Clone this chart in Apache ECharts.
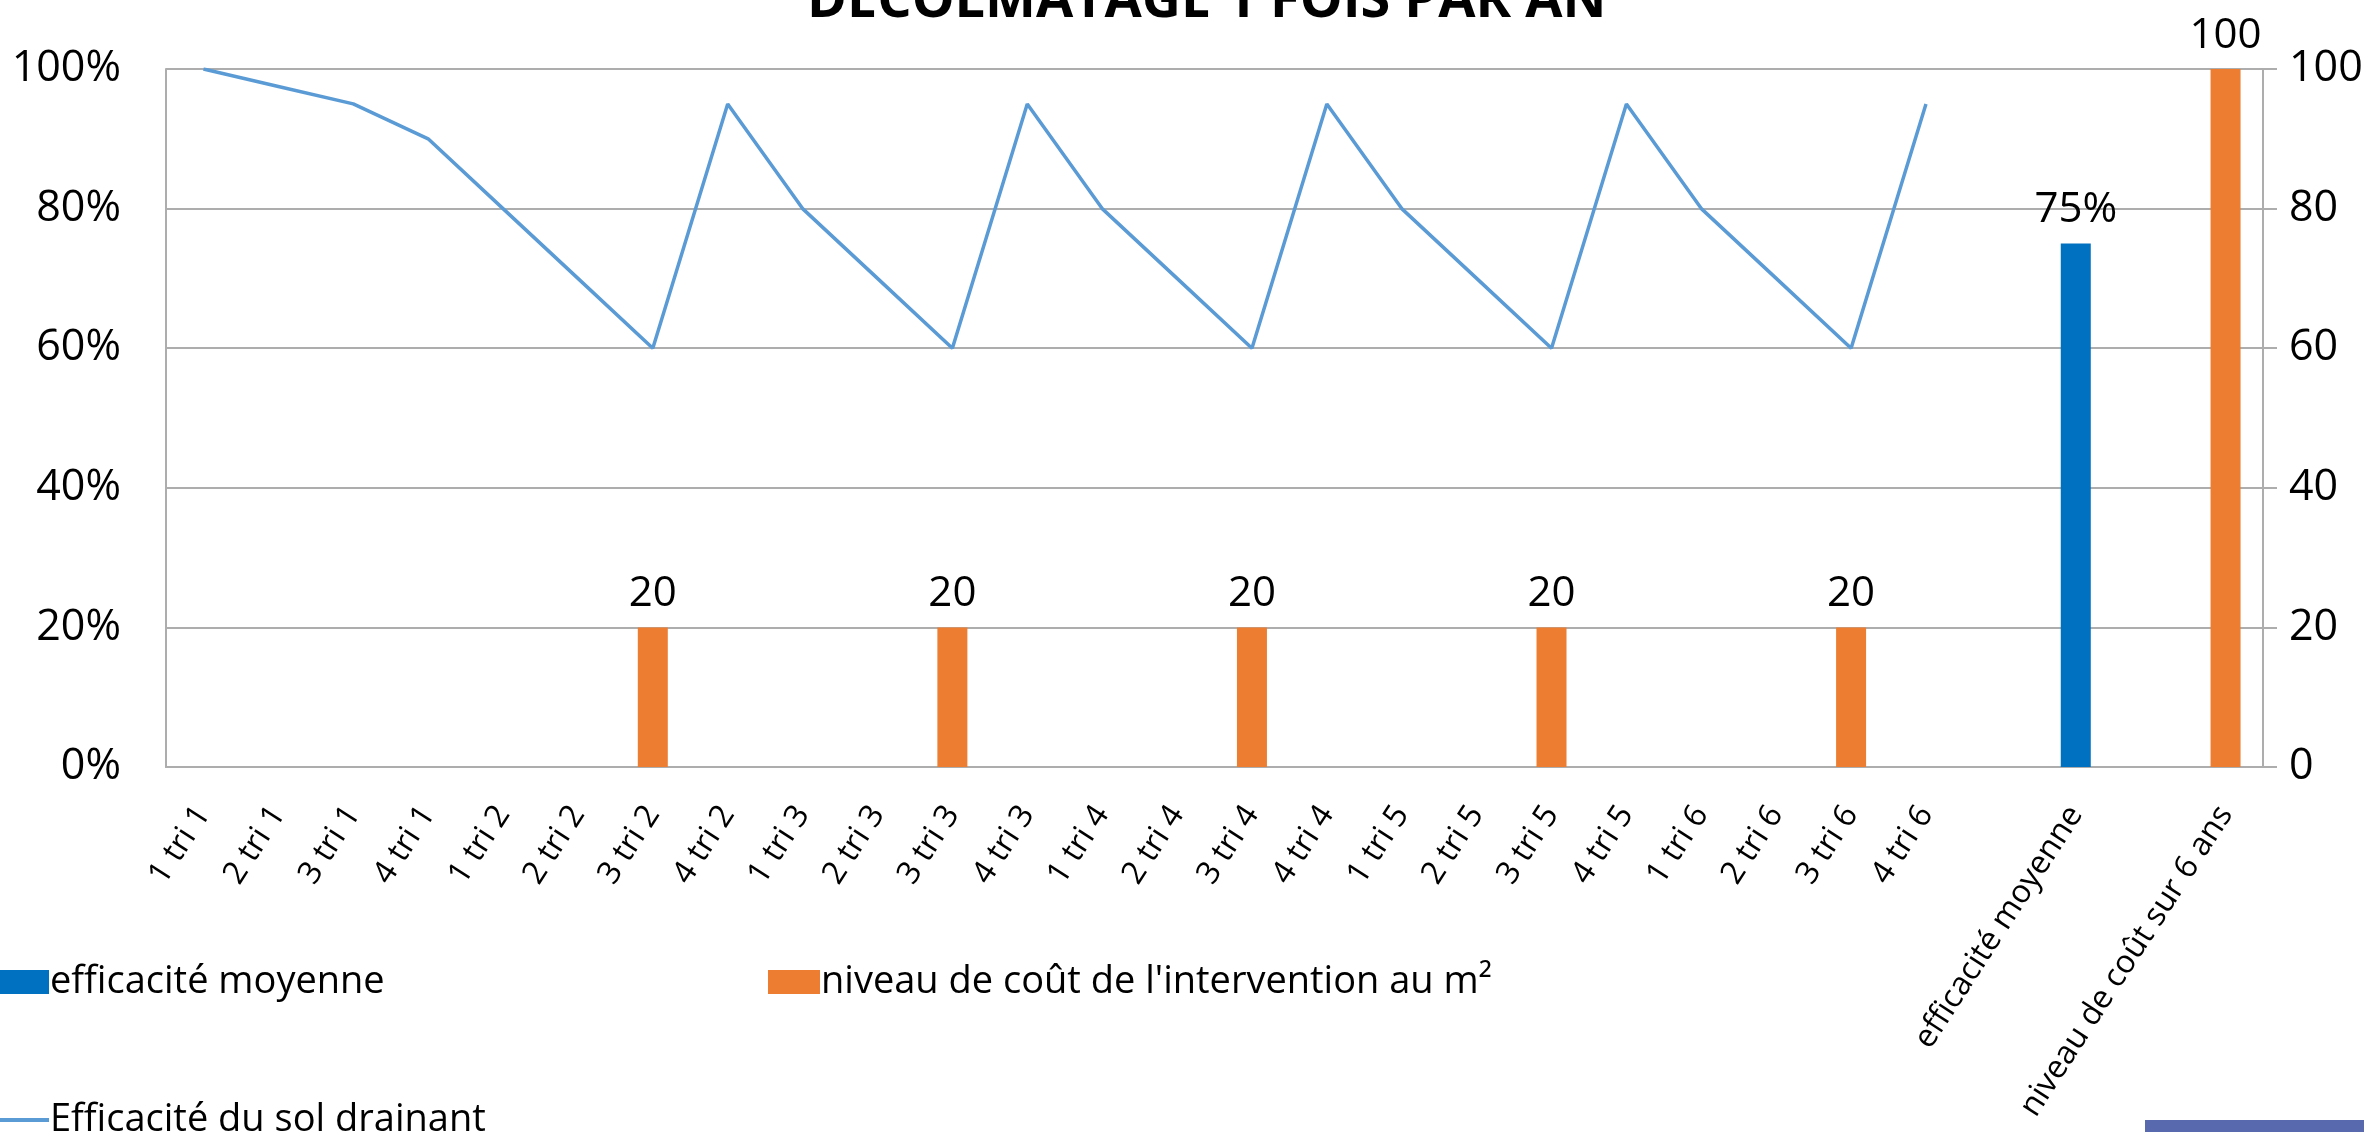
<!DOCTYPE html>
<html>
<head>
<meta charset="utf-8">
<script src="https://cdn.jsdelivr.net/npm/echarts@6/dist/echarts.min.js"></script>
<style>
    html, body { margin: 0; padding: 0; background: #fff; }
    #chart { width: 2364px; height: 1132px; }
</style>
</head>
<body>
<div id="chart"></div>
<script>
// categories (blank slots keep the gaps before the two summary bars)
const categories = [
    '1 tri 1', '2 tri 1', '3 tri 1', '4 tri 1',
    '1 tri 2', '2 tri 2', '3 tri 2', '4 tri 2',
    '1 tri 3', '2 tri 3', '3 tri 3', '4 tri 3',
    '1 tri 4', '2 tri 4', '3 tri 4', '4 tri 4',
    '1 tri 5', '2 tri 5', '3 tri 5', '4 tri 5',
    '1 tri 6', '2 tri 6', '3 tri 6', '4 tri 6',
    '', 'efficacité moyenne', '', 'niveau de coût sur 6 ans'
]
// efficacité du sol drainant (fraction)
const efficaciteSol = [
    1.00, 0.975, 0.95, 0.90,
    0.80, 0.70, 0.60, 0.95,
    0.80, 0.70, 0.60, 0.95,
    0.80, 0.70, 0.60, 0.95,
    0.80, 0.70, 0.60, 0.95,
    0.80, 0.70, 0.60, 0.95,
    null, null, null, null
]
// efficacité moyenne (fraction)
const efficaciteMoyenne = [
    null, null, null, null, null, null, null, null,
    null, null, null, null, null, null, null, null,
    null, null, null, null, null, null, null, null,
    null, 0.75, null, null
]
// niveau de coût (right axis)
const niveauCout = [
    null, null, null, null, null, null, 20, null,
    null, null, 20, null, null, null, 20, null,
    null, null, 20, null, null, null, 20, null,
    null, null, null, 100
]
const leftTicks = { min: 0, max: 1, interval: 0.2 }
const rightTicks = { min: 0, max: 100, interval: 20 }

const font = "'Open Sans', sans-serif"
const gridColor = '#ADADAD'
const colors = ['#0070C0', '#ED7D31', '#5B9BD5']

const pct = v => Math.round(v * 100) + '%'

const myChart = echarts.init(document.getElementById('chart'))
const option = {
    animation: false,
    textStyle: { fontFamily: font },
    title: {
        text: 'DECOLMATAGE 1 FOIS PAR AN',
        left: 802,
        top: -30,
        textStyle: { fontFamily: font, fontSize: 54, fontWeight: 'bold', color: '#000' }
    },
    legend: [
        {
            left: -8, top: 958, itemWidth: 52, itemHeight: 24, itemGap: 0,
            icon: 'rect',
            data: ['efficacité moyenne'],
            textStyle: { fontFamily: font, fontSize: 38, color: '#000', padding: [0, 0, 0, -4] }
        },
        {
            left: 763, top: 958, itemWidth: 52, itemHeight: 24, itemGap: 0,
            icon: 'rect',
            data: ["niveau de coût de l'intervention au m²"],
            textStyle: { fontFamily: font, fontSize: 38, color: '#000', padding: [0, 0, 0, -4] }
        },
        {
            left: -8, top: 1096, itemWidth: 52, itemHeight: 4, itemGap: 0,
            icon: 'rect',
            data: ['Efficacité du sol drainant'],
            textStyle: { fontFamily: font, fontSize: 38, color: '#000', padding: [0, 0, 0, -4] }
        }
    ],
    grid: {
        left: 166,
        right: 101,
        top: 69,
        bottom: 365,
        outerBoundsMode: 'none'
    },
    xAxis: {
        type: 'category',
        data: categories,
        axisTick: { show: false },
        axisLine: { lineStyle: { color: gridColor, width: 2 } },
        axisLabel: {
            interval: 0,
            rotate: 57,
            margin: 42,
            fontSize: 32,
            fontFamily: font,
            color: '#000'
        }
    },
    yAxis: [
        {
            type: 'value',
            min: leftTicks.min,
            max: leftTicks.max,
            interval: leftTicks.interval,
            axisLine: { show: true, lineStyle: { color: gridColor, width: 2 } },
            axisTick: { show: false },
            splitLine: { show: true, lineStyle: { color: gridColor, width: 2 } },
            axisLabel: {
                formatter: pct,
                margin: 45,
                fontSize: 43,
                fontFamily: font,
                color: '#000'
            }
        },
        {
            type: 'value',
            min: rightTicks.min,
            max: rightTicks.max,
            interval: rightTicks.interval,
            axisLine: { show: true, lineStyle: { color: gridColor, width: 2 } },
            axisTick: { show: true, length: 14, lineStyle: { color: gridColor, width: 2 } },
            splitLine: { show: false },
            axisLabel: {
                margin: 26,
                fontSize: 43,
                fontFamily: font,
                color: '#000'
            }
        }
    ],
    series: [
        {
            name: 'efficacité moyenne',
            type: 'bar',
            yAxisIndex: 0,
            data: efficaciteMoyenne,
            barWidth: 30,
            barGap: '-100%',
            itemStyle: { color: colors[0] },
            label: {
                show: true,
                position: 'top',
                distance: 12,
                formatter: p => pct(p.value),
                fontSize: 42,
                fontFamily: font,
                color: '#000'
            }
        },
        {
            name: "niveau de coût de l'intervention au m²",
            type: 'bar',
            yAxisIndex: 1,
            data: niveauCout,
            barWidth: 30,
            barGap: '-100%',
            itemStyle: { color: colors[1] },
            label: {
                show: true,
                position: 'top',
                distance: 12,
                fontSize: 42,
                fontFamily: font,
                color: '#000'
            }
        },
        {
            name: 'Efficacité du sol drainant',
            type: 'line',
            yAxisIndex: 0,
            data: efficaciteSol,
            showSymbol: false,
            symbol: 'none',
            z: 5,
            itemStyle: { color: colors[2] },
            lineStyle: { width: 3.5, color: colors[2] }
        }
    ],
    graphic: [
        {
            // bandeau en bas à droite
            type: 'rect',
            right: 0,
            bottom: 0,
            shape: { width: 219, height: 12 },
            style: { fill: '#5869AE' }
        }
    ]
}
myChart.setOption(option)
window.addEventListener('resize', function () {
    myChart.resize()
})
</script>
</body>
</html>
